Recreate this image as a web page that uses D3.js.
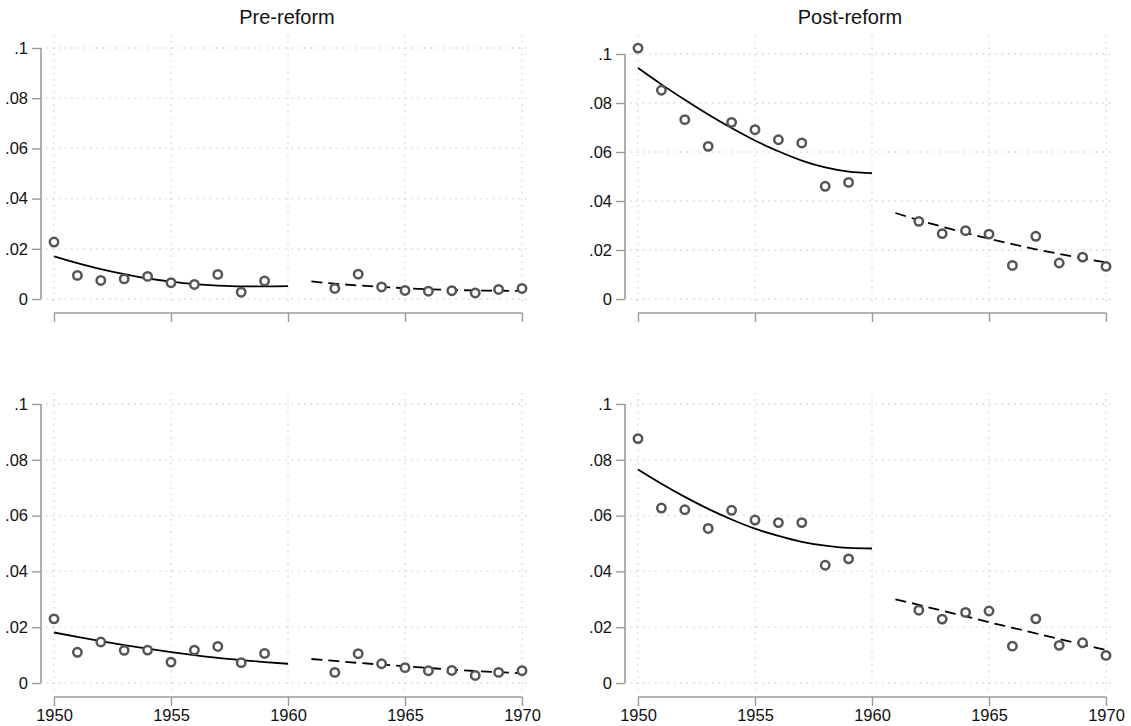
<!DOCTYPE html>
<html>
<head>
<meta charset="utf-8">
<script src="https://cdn.jsdelivr.net/npm/d3@7/dist/d3.min.js"></script>
<style>
  body { margin: 0; background: #fff; }
  svg { display: block; font-family: "Liberation Sans", Arial, sans-serif; }
</style>
</head>
<body>
<svg id="chart" width="1131" height="726"></svg>
<script>
'use strict';

// years for the dots, before and after the 1960 break
let yearsPre = [1950, 1951, 1952, 1953, 1954, 1955, 1956, 1957, 1958, 1959],
    yearsPost = [1962, 1963, 1964, 1965, 1966, 1967, 1968, 1969, 1970],
    fitYearsPre = [1950, 1951, 1952, 1953, 1954, 1955, 1956, 1957, 1958, 1959, 1960],
    fitYearsPost = [1961, 1962, 1963, 1964, 1965, 1966, 1967, 1968, 1969, 1970];

let xTicks = [1950, 1955, 1960, 1965, 1970],
    yTicks = [0, 0.02, 0.04, 0.06, 0.08, 0.1],
    colTitles = ["Pre-reform", "Post-reform"];

// row 1, pre-reform
let r1PreDots = [0.0227, 0.0094, 0.0074, 0.0080, 0.0090, 0.0065, 0.0058, 0.0098, 0.0027, 0.0072],
    r1PreDots2 = [0.0042, 0.0099, 0.0048, 0.0034, 0.0031, 0.0033, 0.0024, 0.0038, 0.0042],
    r1PreFit = [0.0170, 0.0143, 0.0119, 0.0099, 0.0082, 0.0069, 0.0059, 0.0053, 0.0050, 0.0050, 0.0051],
    r1PreFit2 = [0.0070, 0.0061, 0.0054, 0.0048, 0.0043, 0.0039, 0.0036, 0.0034, 0.0033, 0.0032];

// row 1, post-reform
let r1PostDots = [0.1024, 0.0852, 0.0732, 0.0623, 0.0721, 0.0691, 0.0650, 0.0637, 0.0460, 0.0476],
    r1PostDots2 = [0.0317, 0.0267, 0.0279, 0.0265, 0.0137, 0.0256, 0.0147, 0.0171, 0.0133],
    r1PostFit = [0.0943, 0.0876, 0.0813, 0.0753, 0.0698, 0.0647, 0.0603, 0.0565, 0.0537, 0.0520, 0.0514],
    r1PostFit2 = [0.0351, 0.0322, 0.0295, 0.0270, 0.0246, 0.0224, 0.0203, 0.0184, 0.0166, 0.0149];

// row 2, pre-reform
let r2PreDots = [0.0230, 0.0110, 0.0147, 0.0117, 0.0118, 0.0075, 0.0118, 0.0131, 0.0073, 0.0106],
    r2PreDots2 = [0.0038, 0.0105, 0.0069, 0.0055, 0.0044, 0.0045, 0.0027, 0.0038, 0.0044],
    r2PreFit = [0.0181, 0.0165, 0.0150, 0.0136, 0.0123, 0.0111, 0.0100, 0.0090, 0.0082, 0.0075, 0.0069],
    r2PreFit2 = [0.0086, 0.0079, 0.0072, 0.0066, 0.0060, 0.0054, 0.0048, 0.0043, 0.0039, 0.0035];

// row 2, post-reform
let r2PostDots = [0.0876, 0.0627, 0.0621, 0.0554, 0.0619, 0.0584, 0.0575, 0.0575, 0.0422, 0.0445],
    r2PostDots2 = [0.0261, 0.0229, 0.0253, 0.0258, 0.0132, 0.0230, 0.0135, 0.0144, 0.0099],
    r2PostFit = [0.0765, 0.0714, 0.0667, 0.0624, 0.0586, 0.0553, 0.0527, 0.0506, 0.0492, 0.0484, 0.0482],
    r2PostFit2 = [0.0300, 0.0280, 0.0259, 0.0239, 0.0218, 0.0198, 0.0178, 0.0158, 0.0138, 0.0118];

let AXIS = "#9a9a9a",
    GRID = "#cfcfcf",
    DOT = "#555";

let svg = d3.select("#chart");

function yFmt(d) {
    if (d === 0) return "0";
    return d3.format(".2~f")(d).replace(/^0/, "");
}

function panel(opts) {
    let g = svg.append("g");
    let x = d3.scaleLinear().domain([1950, 1970]).range([opts.x0, opts.x1]);
    let y = d3.scaleLinear().domain([0, 0.1]).range([opts.yZero, opts.yTen]);

    // grid
    let grid = g.append("g").attr("class", "grid");
    grid.selectAll("line.h").data(yTicks).enter().append("line")
        .attr("x1", opts.x0 - 8).attr("x2", opts.x1 + 8)
        .attr("y1", function(d) { return y(d); })
        .attr("y2", function(d) { return y(d); });
    grid.selectAll("line.v").data(xTicks).enter().append("line")
        .attr("x1", function(d) { return x(d); })
        .attr("x2", function(d) { return x(d); })
        .attr("y1", opts.gridTop).attr("y2", opts.yZero + 7);
    grid.selectAll("line")
        .style("stroke", GRID)
        .style("stroke-width", 1.3)
        .style("stroke-dasharray", "1.3,5");

    // y axis
    let yAxis = g.append("g")
        .attr("transform", "translate(" + (opts.x0 - 13) + ",0)")
        .call(d3.axisLeft(y).tickValues(yTicks).tickFormat(yFmt).tickSize(9).tickPadding(4));

    // x axis
    let xAxis = g.append("g")
        .attr("transform", "translate(0," + (opts.yZero + 14) + ")")
        .call(d3.axisBottom(x).tickValues(xTicks).tickSize(9).tickPadding(3)
            .tickFormat(opts.xLabels ? d3.format("d") : ""));

    [yAxis, xAxis].forEach(function(a) {
        a.select(".domain").remove();
        a.selectAll(".tick line").style("stroke", AXIS).style("stroke-width", 1.4);
        a.selectAll("text").style("fill", "#111").style("font-size", "16.5px")
            .style("font-family", "'Liberation Sans', Arial, sans-serif");
    });
    // axis lines span the tick range only
    g.append("line")
        .attr("x1", opts.x0 - 13).attr("x2", opts.x0 - 13)
        .attr("y1", y(0.1)).attr("y2", y(0))
        .style("stroke", AXIS).style("stroke-width", 1.6);
    g.append("line")
        .attr("x1", x(1950)).attr("x2", x(1970))
        .attr("y1", opts.yZero + 14).attr("y2", opts.yZero + 14)
        .style("stroke", AXIS).style("stroke-width", 1.6);

    if (opts.title) {
        g.append("text")
            .attr("x", opts.titleX)
            .attr("y", 24)
            .attr("text-anchor", "middle")
            .style("font-size", "20px")
            .style("fill", "#111")
            .text(opts.title);
    }

    let line = d3.line()
        .x(function(d) { return x(d[0]); })
        .y(function(d) { return y(d[1]); })
        .curve(d3.curveMonotoneX);

    g.append("path")
        .datum(d3.zip(fitYearsPre, opts.fit))
        .attr("d", line)
        .style("fill", "none").style("stroke", "#000").style("stroke-width", 1.8);
    g.append("path")
        .datum(d3.zip(fitYearsPost, opts.fit2))
        .attr("d", line)
        .style("fill", "none").style("stroke", "#000").style("stroke-width", 1.8)
        .style("stroke-dasharray", "11,6");

    let pts = d3.zip(yearsPre, opts.dots).concat(d3.zip(yearsPost, opts.dots2));
    g.append("g").selectAll("circle").data(pts).enter().append("circle")
        .attr("cx", function(d) { return x(d[0]); })
        .attr("cy", function(d) { return y(d[1]); })
        .attr("r", 4.2)
        .style("fill", "#fff")
        .style("stroke", DOT)
        .style("stroke-width", 2.5);
}

panel({ x0: 54, x1: 522, yZero: 299, yTen: 48, gridTop: 35, xLabels: false,
        title: colTitles[0], titleX: 287,
        dots: r1PreDots, dots2: r1PreDots2, fit: r1PreFit, fit2: r1PreFit2 });
panel({ x0: 638, x1: 1106, yZero: 299, yTen: 54, gridTop: 35, xLabels: false,
        title: colTitles[1], titleX: 850,
        dots: r1PostDots, dots2: r1PostDots2, fit: r1PostFit, fit2: r1PostFit2 });
panel({ x0: 54, x1: 522, yZero: 683, yTen: 404, gridTop: 393, xLabels: true,
        dots: r2PreDots, dots2: r2PreDots2, fit: r2PreFit, fit2: r2PreFit2 });
panel({ x0: 638, x1: 1106, yZero: 683, yTen: 404, gridTop: 393, xLabels: true,
        dots: r2PostDots, dots2: r2PostDots2, fit: r2PostFit, fit2: r2PostFit2 });
</script>
</body>
</html>
